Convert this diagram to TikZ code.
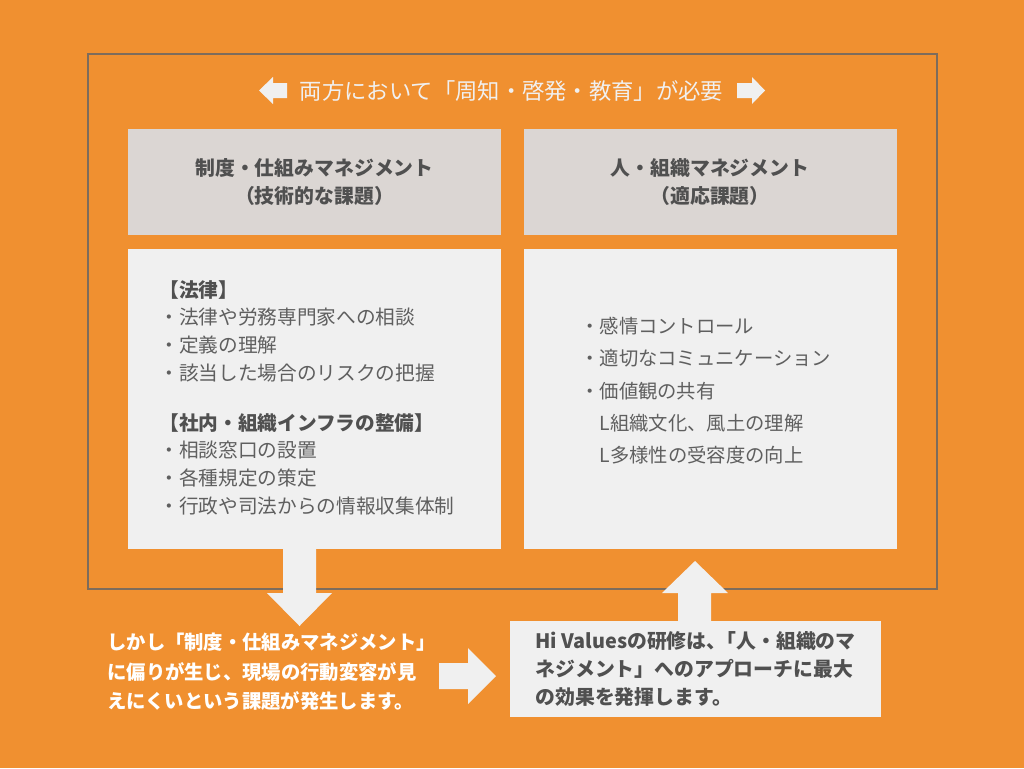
\documentclass[tikz,border=0pt]{standalone}
\usepackage{fontspec}
\setmainfont{Noto Sans CJK JP}
\usepackage{xcolor}
\usepackage{tikz}
\usetikzlibrary{positioning}
\definecolor{bgorange}{RGB}{240,144,48}
\definecolor{headgray}{RGB}{219,214,211}
\definecolor{boxgray}{RGB}{240,240,240}
\definecolor{framebrown}{RGB}{125,108,92}
\definecolor{darktext}{RGB}{80,80,80}
\definecolor{softtext}{RGB}{95,95,95}
\tikzstyle{headbox} = [rectangle, 
minimum width=7.46cm, 
minimum height=2.12cm, 
align=center, 
fill=headgray, 
text=darktext, 
font=\bfseries\fontsize{11.3}{16}\selectfont]
\tikzstyle{listbox} = [rectangle, 
minimum width=7.46cm, 
minimum height=6cm, 
fill=boxgray]
\tikzstyle{listtext} = [align=left, inner sep=0pt, 
text=softtext]
\tikzstyle{notebox} = [rectangle, 
minimum width=7.42cm, 
minimum height=1.92cm, 
align=left, 
fill=boxgray, 
text=darktext, 
font=\bfseries\fontsize{11.3}{16.2}\selectfont]
\tikzstyle{fatarrow} = [fill=boxgray, draw=none]
\tikzstyle{frame} = [draw=framebrown, line width=0.6pt]

\begin{document}
\begin{tikzpicture}[x=0.02cm, y=-0.02cm]
\useasboundingbox (0,0) rectangle (1024,768);
\fill[bgorange] (0,0) rectangle (1024,768);
\draw[frame] (88,54) rectangle (937,589);

% title line
\node (title) [text=boxgray, font=\fontsize{12.7}{16}\selectfont] at (511.5,91) {両方において「周知・啓発・教育」が必要};
\draw[fatarrow] (287,83) -- (273,83) -- (273,77) -- (259,90.5) -- (273,104) -- (273,98) -- (287,98) -- cycle;
\draw[fatarrow] (737,83) -- (752,83) -- (752,77) -- (765,90.5) -- (752,104) -- (752,98) -- (737,98) -- cycle;

% two columns
\node (lawhead) [headbox] at (314.5,182) {制度・仕組みマネジメント\\（技術的な課題）};
\node (orghead) [headbox, right=0.44cm of lawhead] {人・組織マネジメント\\（適応課題）};
\node (lawbox) [listbox, below=0.26cm of lawhead] {};
\node (orgbox) [listbox, below=0.26cm of orghead] {};

\node (lawlist) [listtext, anchor=north west, font=\fontsize{11.2}{15.8}\selectfont] at (159,280) {%
{\bfseries\color{darktext}【法律】}\\
・法律や労務専門家への相談\\
・定義の理解\\
・該当した場合のリスクの把握\\[12.5pt]
{\bfseries\color{darktext}【社内・組織インフラの整備】}\\
・相談窓口の設置\\
・各種規定の策定\\
・行政や司法からの情報収集体制};
\node (orglist) [listtext, anchor=north west, font=\fontsize{11}{18.3}\selectfont] at (580,317) {%
・感情コントロール\\
・適切なコミュニケーション\\
・価値観の共有\\
　L組織文化、風土の理解\\
　L多様性の受容度の向上};

% bottom row
\draw[fatarrow] (283,548) -- (316,548) -- (316,593) -- (332,593) -- (299.5,626) -- (267,593) -- (283,593) -- cycle;
\node (issue) [anchor=west, align=left, inner sep=0pt, text=white, font=\bfseries\fontsize{11}{16.8}\selectfont] at (107,672) {しかし「制度・仕組みマネジメント」\\に偏りが生じ、現場の行動変容が見\\えにくいという課題が発生します。};
\draw[fatarrow] (439,663) -- (468,663) -- (468,648) -- (496,676) -- (468,704) -- (468,689) -- (439,689) -- cycle;
\node (training) [notebox] at (695.5,669) {Hi Valuesの研修は、\kern-0.5em「人・組織のマ\\ネジメント」へのアプローチに最大\\の効果を発揮します。};
\draw[fatarrow] (678,621) -- (678,593) -- (662,593) -- (695,561) -- (728,593) -- (711,593) -- (711,621) -- cycle;
\end{tikzpicture}
\end{document}
